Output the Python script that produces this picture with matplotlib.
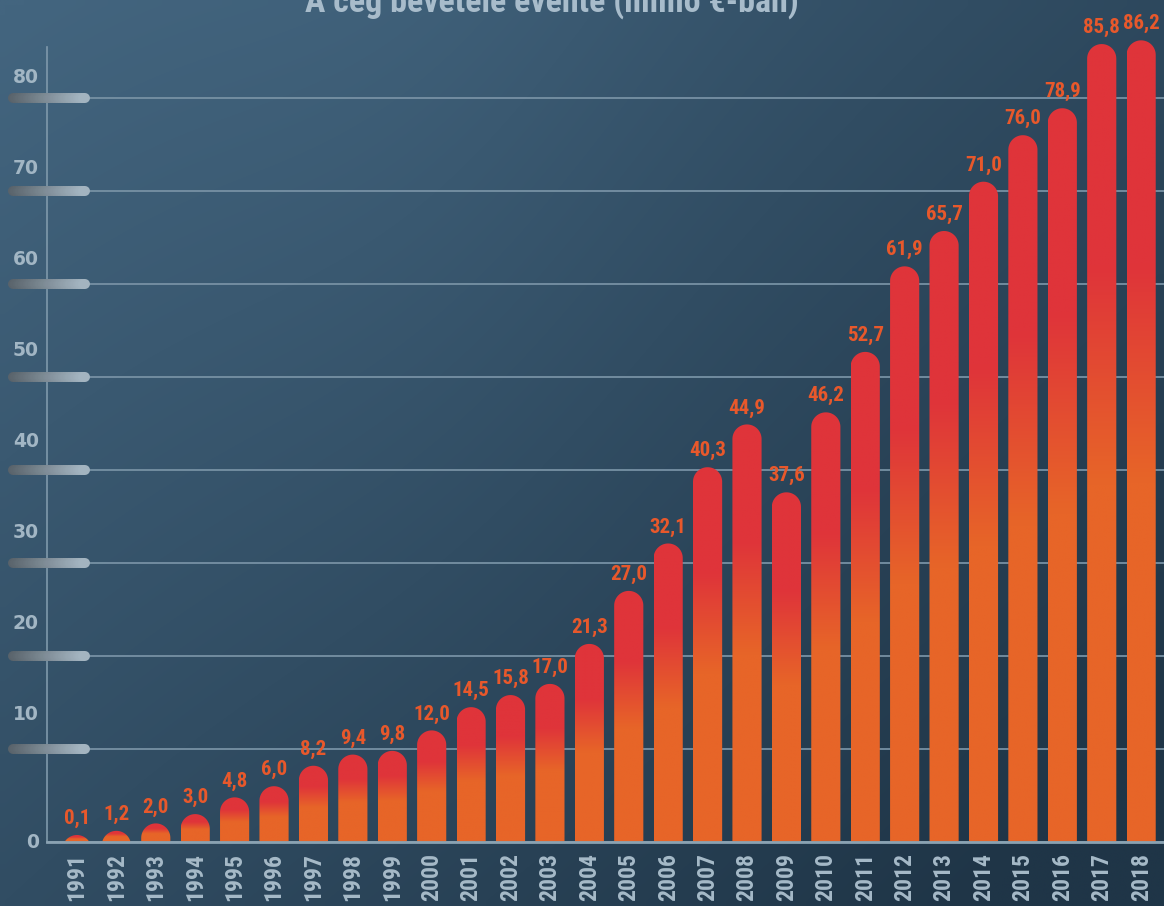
import numpy as np
import matplotlib
matplotlib.use("Agg")
import matplotlib.pyplot as plt
from matplotlib import font_manager, transforms
from matplotlib.path import Path
from matplotlib.patches import PathPatch
from matplotlib.collections import LineCollection
from matplotlib.colors import to_rgb

# --- data ---
years = ["1991", "1992", "1993", "1994", "1995", "1996", "1997", "1998", "1999", "2000",
         "2001", "2002", "2003", "2004", "2005", "2006", "2007", "2008", "2009", "2010",
         "2011", "2012", "2013", "2014", "2015", "2016", "2017", "2018"]
revenue = [0.1, 1.2, 2.0, 3.0, 4.8, 6.0, 8.2, 9.4, 9.8, 12.0,
           14.5, 15.8, 17.0, 21.3, 27.0, 32.1, 40.3, 44.9, 37.6, 46.2,
           52.7, 61.9, 65.7, 71.0, 76.0, 78.9, 85.8, 86.2]
y_ticks = [0, 10, 20, 30, 40, 50, 60, 70, 80]
y_labels = ["0", "10", "20", "30", "40", "50", "60", "70", "80"]
title = "A cég bevétele évente (millió €-ban)"

# --- fonts ---
avail = {f.name for f in font_manager.fontManager.ttflist}
narrow = "DejaVu Sans"
for cand in ["Liberation Sans Narrow", "DejaVu Sans Condensed", "Roboto Condensed"]:
    if cand in avail:
        narrow = cand
        break

W, H = 1164, 906
fig = plt.figure(figsize=(W / 100, H / 100), dpi=100)

# background gradient
bg = fig.add_axes([0, 0, 1, 1], zorder=-10)
gx, gy = np.meshgrid(np.linspace(0, 1, 120), np.linspace(0, 1, 90))
t = np.clip(0.6 * gx + 0.5 * gy - 0.1 * np.exp(-((gx - 0.35) ** 2) / 0.05) * (1 - gy), 0, 1)
c_light, c_dark = np.array(to_rgb("#43657f")), np.array(to_rgb("#1f3547"))
bg.imshow(c_light[None, None, :] * (1 - t[..., None]) + c_dark[None, None, :] * t[..., None],
          aspect="auto", extent=[0, 1, 0, 1], interpolation="bilinear")
bg.axis("off")

# main axes, pixel layout
ax_left, ax_bottom = 47 / W, (H - 842) / H
ax = fig.add_axes([ax_left, ax_bottom, 1 - ax_left, 1 - ax_bottom])
ax.set_facecolor("none")
n = len(years)
x = np.arange(n)
ax.set_xlim(-0.76, n - 1 + 0.58)
ax.set_ylim(0, 842 / 9.3)

grid_col = "#7791a4"
ax.set_yticks(y_ticks)
ax.set_yticklabels([])
ax.tick_params(axis="y", length=0)
ax.grid(axis="y", color=grid_col, lw=1.3, zorder=0)
ax.set_axisbelow(True)
for s in ["top", "right"]:
    ax.spines[s].set_visible(False)
ax.spines["left"].set_color("#7f99ab")
ax.spines["left"].set_linewidth(1.2)
ax.spines["left"].set_bounds(0, 85.5)
ax.spines["bottom"].set_color("#8aa2b2")
ax.spines["bottom"].set_linewidth(2)
ax.spines["bottom"].set_zorder(5)

label_col = "#a6bac8"
ax.set_xticks(x)
ax.set_xticklabels(years, rotation=90, fontsize=17, fontweight="bold",
                   color=label_col, family=[narrow, "DejaVu Sans"])
ax.tick_params(axis="x", length=0, pad=8)

# bar geometry
bar_w = 0.74
hw = bar_w / 2
pos = ax.get_position()
xpu = pos.width * W / (ax.get_xlim()[1] - ax.get_xlim()[0])
ypu = pos.height * H / (ax.get_ylim()[1] - ax.get_ylim()[0])
ry = hw * xpu / ypu


def bar_path(cx, top):
    yc = top - ry
    if yc >= 0:
        tt = np.linspace(0, np.pi, 50)
        verts = [(cx + hw, 0)] + list(zip(cx + hw * np.cos(tt), yc + ry * np.sin(tt))) + [(cx - hw, 0)]
    else:
        t0 = np.arcsin(-yc / ry)
        tt = np.linspace(t0, np.pi - t0, 50)
        verts = list(zip(cx + hw * np.cos(tt), yc + ry * np.sin(tt)))
    verts.append(verts[0])
    return Path(verts, closed=True)


red = np.array(to_rgb("#df343a"))
orange = np.array(to_rgb("#e76528"))
f = np.linspace(0, 1, 200)
mix = np.clip((f - 0.45) / (0.72 - 0.45), 0, 1)[:, None]
bar_grad = (orange * (1 - mix) + red * mix)[:, None, :]

value_col = "#e8582b"
for cx, v in zip(x, revenue):
    top = max(v, 0.75)
    patch = PathPatch(bar_path(cx, top), transform=ax.transData, facecolor="none", edgecolor="none")
    ax.add_patch(patch)
    im = ax.imshow(bar_grad, extent=[cx - hw, cx + hw, 0, top], origin="lower",
                   aspect="auto", interpolation="bilinear", zorder=3)
    im.set_clip_path(patch)
    ax.annotate(f"{v:.1f}".replace(".", ","), (cx, top), xytext=(0, 11),
                textcoords="offset pixels", ha="center", va="baseline",
                fontsize=15, fontweight="bold", color=value_col,
                family=[narrow, "DejaVu Sans"], zorder=6)

ax.set_xlim(-0.76, n - 1 + 0.58)
ax.set_ylim(0, 842 / 9.3)

# pill-shaped tick markers and y labels
blend = transforms.blended_transform_factory(fig.transFigure, ax.transData)
pill_c0, pill_c1 = np.array(to_rgb("#59636b")), np.array(to_rgb("#a3b4c0"))
px = np.linspace(13 / W, 85 / W, 30)
for v, lab in zip(y_ticks, y_labels):
    if v > 0:
        segs = [[(px[i], v), (px[i + 1], v)] for i in range(len(px) - 1)]
        k = np.linspace(0, 1, len(segs))[:, None]
        lc = LineCollection(segs, colors=pill_c0 * (1 - k) + pill_c1 * k, linewidths=7.2,
                            capstyle="round", transform=blend, zorder=4, clip_on=False)
        ax.add_collection(lc)
        off = 34 - 0.19 * (v - 10)
    else:
        off = 0
    tr = transforms.offset_copy(blend, fig=fig, x=0, y=off, units="dots")
    ax.text(39 / W, v, lab, transform=tr, ha="right", va="center", fontsize=13.5,
            fontweight="bold", color="#a2b6c4", clip_on=False)

# title, mostly cut off by the top edge as in the reference
tt = fig.text(552 / W, 1 - 11.5 / H, title, ha="center", va="baseline",
              fontsize=16, fontweight="bold", color="#a8bccb", family=[narrow, "DejaVu Sans"])
fig.canvas.draw()
w_now = tt.get_window_extent().width
tt.set_fontsize(16 * 494 / w_now)

fig.savefig("out.png", dpi=100)
